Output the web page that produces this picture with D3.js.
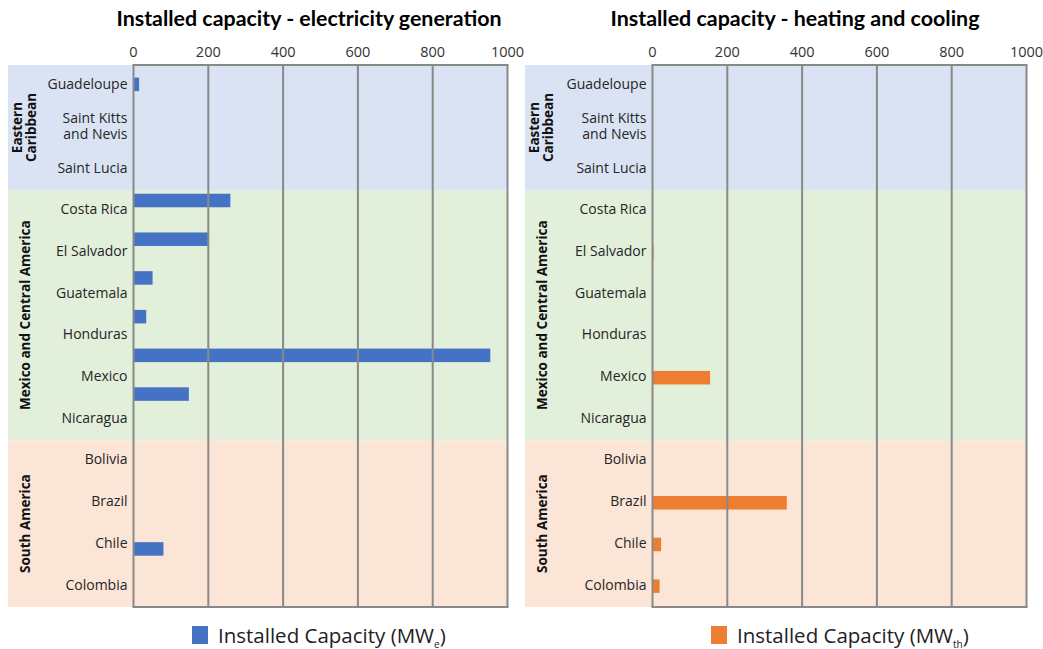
<!DOCTYPE html>
<html>
<head>
<meta charset="utf-8">
<script src="https://cdn.jsdelivr.net/npm/d3@7"></script>
<style>
  body { margin: 0; background: #fff; }
  text { font-family: "Open Sans", sans-serif; fill: #262626; }
</style>
</head>
<body>
<div id="chart"></div>
<script>
// Data
////////////////////////////////////////
var countries = ["Guadeloupe", "Saint Kitts and Nevis", "Saint Lucia", "Costa Rica", "El Salvador",
  "Guatemala", "Honduras", "Mexico", "Nicaragua", "Bolivia", "Brazil", "Chile", "Colombia"];

// MWe, electricity generation
// (the source series has one extra empty row after Nicaragua, so its bars sit on 14 slots)
var elecCategories = ["Guadeloupe", "Saint Kitts and Nevis", "Saint Lucia", "Costa Rica", "El Salvador",
  "Guatemala", "Honduras", "Mexico", "Nicaragua", "(blank)", "Bolivia", "Brazil", "Chile", "Colombia"];
var elecValues = [15, 0, 0, 259, 202, 51, 34, 954, 148, 0, 0, 0, 80, 0];

// MWth, heating and cooling
var heatValues = [0, 0, 0, 0, 3, 0, 0, 154, 0, 0, 359, 23, 19];

var regionNames = ["Eastern Caribbean", "Mexico and Central America", "South America"];
var regionSizes = [3, 6, 4];

var xTicks = [0, 200, 400, 600, 800, 1000];

// SVG area
////////////////////////////////////////
var svgWidth = 1043;
var svgHeight = 649;

var plotTop = 65;
var plotBottom = 607;
var plotWidth = 374;

var regionColors = ["#dae3f3", "#e2efda", "#fbe5d6"];
var gridColor = "#898989";

var svg = d3.select("#chart")
  .append("svg")
  .attr("width", svgWidth)
  .attr("height", svgHeight);

var yScale = d3.scaleBand()
  .domain(countries)
  .range([plotTop, plotBottom]);

var yBarElec = d3.scaleBand()
  .domain(elecCategories)
  .range([plotTop, plotBottom]);

function drawPanel(opts) {
  var g = svg.append("g");
  var xScale = d3.scaleLinear()
    .domain([0, 1000])
    .range([opts.x0, opts.x0 + plotWidth]);

  // region backgrounds
  var start = 0;
  regionNames.forEach(function(name, i) {
    var y0 = yScale(countries[start]);
    var y1 = yScale(countries[start + regionSizes[i] - 1]) + yScale.bandwidth();
    g.append("rect")
      .attr("x", opts.bgLeft)
      .attr("y", y0)
      .attr("width", xScale(1000) - opts.bgLeft)
      .attr("height", y1 - y0)
      .attr("fill", regionColors[i]);

    var cx = opts.bgLeft + 17;
    var cy = (y0 + y1) / 2;
    var lab = g.append("text")
      .attr("transform", "translate(" + cx + "," + cy + ") rotate(-90)")
      .attr("text-anchor", "middle")
      .style("font-weight", "bold")
      .style("font-size", "13.5px")
      .style("fill", "#111");
    if (name === "Eastern Caribbean") {
      lab.append("tspan").attr("x", 0).attr("dy", "-0.2em").text("Eastern");
      lab.append("tspan").attr("x", 0).attr("dy", "1.0em").text("Caribbean");
    } else {
      lab.attr("dy", "0.35em").text(name);
    }
    start += regionSizes[i];
  });

  // bars
  var cats = opts.categories;
  var bScale = opts.barScale;
  var barH = 13.5;
  g.selectAll(".bar")
    .data(cats)
    .enter()
    .append("rect")
    .attr("x", xScale(0))
    .attr("y", function(d) { return bScale(d) + bScale.bandwidth() / 2 - barH / 2; })
    .attr("width", function(d, i) { return xScale(opts.values[i]) - xScale(0); })
    .attr("height", barH)
    .attr("fill", opts.color);

  // grid lines
  g.selectAll(".grid")
    .data(xTicks)
    .enter()
    .append("line")
    .attr("x1", function(d) { return xScale(d); })
    .attr("x2", function(d) { return xScale(d); })
    .attr("y1", plotTop)
    .attr("y2", plotBottom)
    .attr("stroke", gridColor)
    .attr("stroke-width", 2);

  [plotTop, plotBottom].forEach(function(y) {
    g.append("line")
      .attr("x1", xScale(0) - 1).attr("x2", xScale(1000) + 1)
      .attr("y1", y).attr("y2", y)
      .attr("stroke", gridColor)
      .attr("stroke-width", 2);
  });

  // top axis tick labels
  g.selectAll(".tick-label")
    .data(xTicks)
    .enter()
    .append("text")
    .attr("x", function(d) { return xScale(d); })
    .attr("y", 57)
    .attr("text-anchor", "middle")
    .style("font-size", "14.5px")
    .style("fill", "#333")
    .text(function(d) { return d; });

  // country labels
  countries.forEach(function(c) {
    var cy = yScale(c) + yScale.bandwidth() / 2 - 1.5;
    var t = g.append("text")
      .attr("x", xScale(0) - 6)
      .attr("y", cy)
      .attr("text-anchor", "end")
      .style("font-size", "14px");
    if (c === "Saint Kitts and Nevis") {
      t.append("tspan").attr("x", xScale(0) - 6).attr("dy", "-0.2em").text("Saint Kitts");
      t.append("tspan").attr("x", xScale(0) - 6).attr("dy", "1.1em").text("and Nevis");
    } else {
      t.attr("dy", "0.35em").text(c);
    }
  });

  // title
  g.append("text")
    .attr("x", opts.titleX)
    .attr("y", 26)
    .attr("text-anchor", "middle")
    .attr("textLength", opts.titleLen)
    .attr("lengthAdjust", "spacingAndGlyphs")
    .style("font-family", "Lato, sans-serif")
    .style("font-weight", "bold")
    .style("font-size", "21px")
    .style("fill", "#000")
    .text(opts.title);

  // legend
  g.append("rect")
    .attr("x", opts.legendX)
    .attr("y", 626)
    .attr("width", 16)
    .attr("height", 18)
    .attr("fill", opts.color);
  var lt = g.append("text")
    .attr("x", opts.legendX + 26)
    .attr("y", 643)
    .style("font-size", "20.5px")
    .style("fill", "#222");
  lt.append("tspan").text("Installed Capacity (MW");
  lt.append("tspan").attr("dy", 5).style("font-size", "10px").text(opts.unitSub);
  lt.append("tspan").attr("dy", -5).text(")");
}

drawPanel({
  x0: 133.5, bgLeft: 8, categories: elecCategories, values: elecValues, color: "#4472c4", barScale: yBarElec,
  title: "Installed capacity - electricity generation", titleX: 309, titleLen: 385,
  legendX: 192, unitSub: "e"
});

drawPanel({
  x0: 652.5, bgLeft: 525, categories: countries, values: heatValues, color: "#ed7d31", barScale: yScale,
  title: "Installed capacity - heating and cooling", titleX: 795, titleLen: 369,
  legendX: 711, unitSub: "th"
});
</script>
</body>
</html>
